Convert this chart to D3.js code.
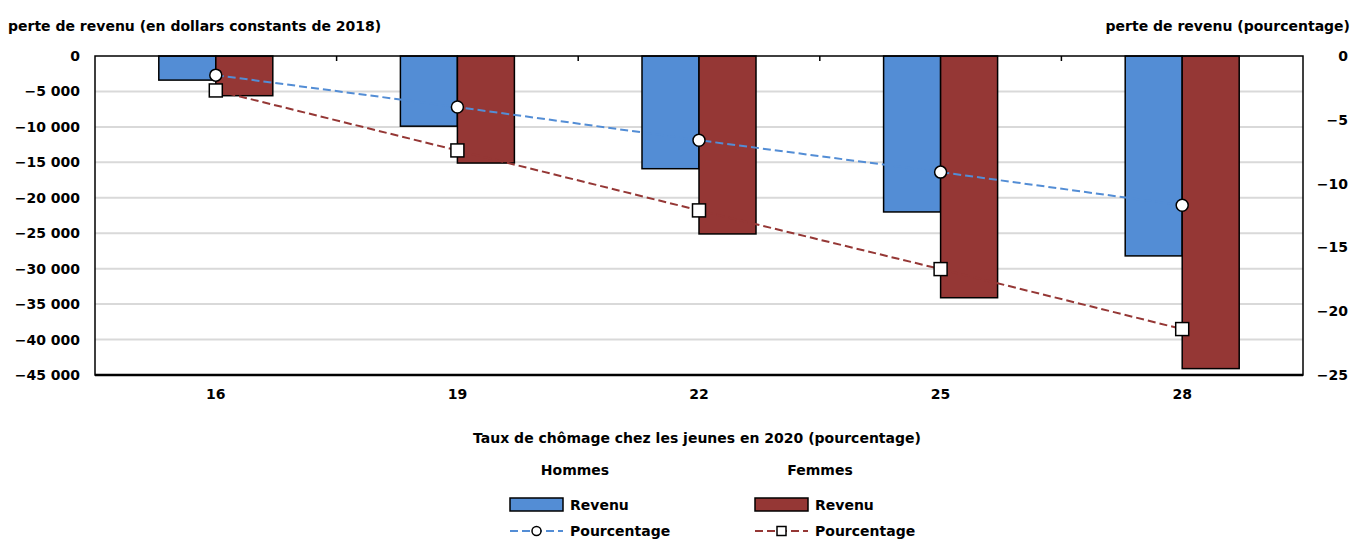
<!DOCTYPE html>
<html><head><meta charset="utf-8">
<script src="https://cdn.jsdelivr.net/npm/d3@7"></script>
<style>
body{margin:0;background:#fff;}
text{font-family:"DejaVu Sans",sans-serif;font-weight:bold;font-size:14px;fill:#000;}
</style></head>
<body><svg id="c" width="1364" height="544"></svg>
<script>
const categories = ["16","19","22","25","28"];
const revenuHommes = [-3400,-9900,-15900,-22000,-28200];
const revenuFemmes = [-5600,-15100,-25100,-34100,-44100];
const pctHommes = [-1.5,-4.0,-6.6,-9.1,-11.7];
const pctFemmes = [-2.7,-7.4,-12.1,-16.7,-21.4];
const leftTicks = [0,-5000,-10000,-15000,-20000,-25000,-30000,-35000,-40000,-45000];
const rightTicks = [0,-5,-10,-15,-20,-25];
const series = ["Hommes","Femmes"];

const blue = "#538dd5", red = "#953735";
const svg = d3.select("#c");
const L = 95, R = 1303, T = 56, B = 375;
const x = d3.scaleBand().domain(categories).range([L,R]);
const bw = x.bandwidth();
const barW = 57;
const x1 = d3.scaleBand().domain(series).range([bw/2-barW, bw/2+barW]);
const yL = d3.scaleLinear().domain([-45000,0]).range([B,T]);
const yR = d3.scaleLinear().domain([-25,0]).range([B,T]);
const loc = d3.formatLocale({thousands:"\u00a0", grouping:[3], decimal:",", minus:"\u2212", currency:["",""]});
const fmt = loc.format(",d");

// gridlines
svg.append("g").selectAll("line").data(leftTicks.filter(d=>d!==0 && d!==-45000)).join("line")
  .attr("x1",L).attr("x2",R).attr("y1",d=>yL(d)).attr("y2",d=>yL(d))
  .attr("stroke","#d9d9d9").attr("stroke-width",2);

// left axis
const la = svg.append("g").attr("transform",`translate(${L},0)`)
  .call(d3.axisLeft(yL).tickValues(leftTicks).tickFormat(fmt).tickSize(0).tickPadding(15));
la.select(".domain").remove();
la.selectAll("text").style("font-size","14px");
// right axis
const ra = svg.append("g").attr("transform",`translate(${R},0)`)
  .call(d3.axisRight(yR).tickValues(rightTicks).tickFormat(loc.format("d")).tickSize(0).tickPadding(45));
ra.select(".domain").remove();
ra.selectAll("text").attr("text-anchor","end").style("font-size","14px");
// bottom axis labels
const ba = svg.append("g").attr("transform",`translate(0,${B})`)
  .call(d3.axisBottom(x).tickSize(0).tickPadding(14));
ba.select(".domain").remove();
ba.selectAll("text").style("font-size","14px");

// bars
const data = categories.map((c,i)=>({c, v:[revenuHommes[i], revenuFemmes[i]]}));
const g = svg.append("g");
g.selectAll("g").data(data).join("g").attr("transform",d=>`translate(${x(d.c)},0)`)
  .selectAll("rect").data(d=>series.map((s,j)=>({s, v:d.v[j]}))).join("rect")
  .attr("x",d=>x1(d.s)).attr("width",x1.bandwidth())
  .attr("y",yL(0)).attr("height",d=>yL(d.v)-yL(0))
  .attr("fill",d=>d.s==="Hommes"?blue:red).attr("stroke","#000").attr("stroke-width",1.5);

// lines
const cx = c => x(c)+bw/2;
const line = d3.line().x((d,i)=>cx(categories[i])).y(d=>yR(d));
svg.append("path").datum(pctHommes).attr("d",line).attr("fill","none")
  .attr("stroke",blue).attr("stroke-width",2).attr("stroke-dasharray","8,4");
svg.append("path").datum(pctFemmes).attr("d",line).attr("fill","none")
  .attr("stroke",red).attr("stroke-width",2).attr("stroke-dasharray","8,4");
svg.append("g").selectAll("circle").data(pctHommes).join("circle")
  .attr("cx",(d,i)=>cx(categories[i])).attr("cy",d=>yR(d)).attr("r",6)
  .attr("fill","#fff").attr("stroke","#000").attr("stroke-width",1.5);
svg.append("g").selectAll("rect").data(pctFemmes).join("rect")
  .attr("x",(d,i)=>cx(categories[i])-6.5).attr("y",d=>yR(d)-6.5).attr("width",13).attr("height",13)
  .attr("fill","#fff").attr("stroke","#000").attr("stroke-width",1.5);

// frame
svg.append("rect").attr("x",L).attr("y",T).attr("width",R-L).attr("height",B-T)
  .attr("fill","none").attr("stroke","#000").attr("stroke-width",1.5);
svg.append("line").attr("x1",L).attr("x2",R).attr("y1",B).attr("y2",B).attr("stroke","#000").attr("stroke-width",2.5);
// top ticks at category boundaries
svg.append("g").selectAll("line").data(categories.slice(1)).join("line")
  .attr("x1",d=>x(d)).attr("x2",d=>x(d)).attr("y1",T).attr("y2",T+5).attr("stroke","#000").attr("stroke-width",1.5);

// titles
svg.append("text").attr("x",8).attr("y",31).text("perte de revenu (en dollars constants de 2018)");
svg.append("text").attr("x",1350).attr("y",31).attr("text-anchor","end").text("perte de revenu (pourcentage)");
svg.append("text").attr("x",697).attr("y",443).attr("text-anchor","middle").text("Taux de chômage chez les jeunes en 2020 (pourcentage)");

// legend
const leg = [{s:"Hommes",x:510,col:blue,m:"c"},{s:"Femmes",x:755,col:red,m:"s"}];
leg.forEach(l=>{
  svg.append("text").attr("x",l.x+65).attr("y",475).attr("text-anchor","middle").text(l.s);
  svg.append("rect").attr("x",l.x).attr("y",498).attr("width",53).attr("height",13)
    .attr("fill",l.col).attr("stroke","#000").attr("stroke-width",1.5);
  svg.append("text").attr("x",l.x+60).attr("y",510).text("Revenu");
  svg.append("line").attr("x1",l.x).attr("x2",l.x+53).attr("y1",531).attr("y2",531)
    .attr("stroke",l.col).attr("stroke-width",2).attr("stroke-dasharray","8,4");
  if(l.m==="c") svg.append("circle").attr("cx",l.x+26.5).attr("cy",531).attr("r",4.5).attr("fill","#fff").attr("stroke","#000").attr("stroke-width",1.5);
  else svg.append("rect").attr("x",l.x+22).attr("y",526.5).attr("width",9).attr("height",9).attr("fill","#fff").attr("stroke","#000").attr("stroke-width",1.5);
  svg.append("text").attr("x",l.x+60).attr("y",536).text("Pourcentage");
});
</script></body></html>
